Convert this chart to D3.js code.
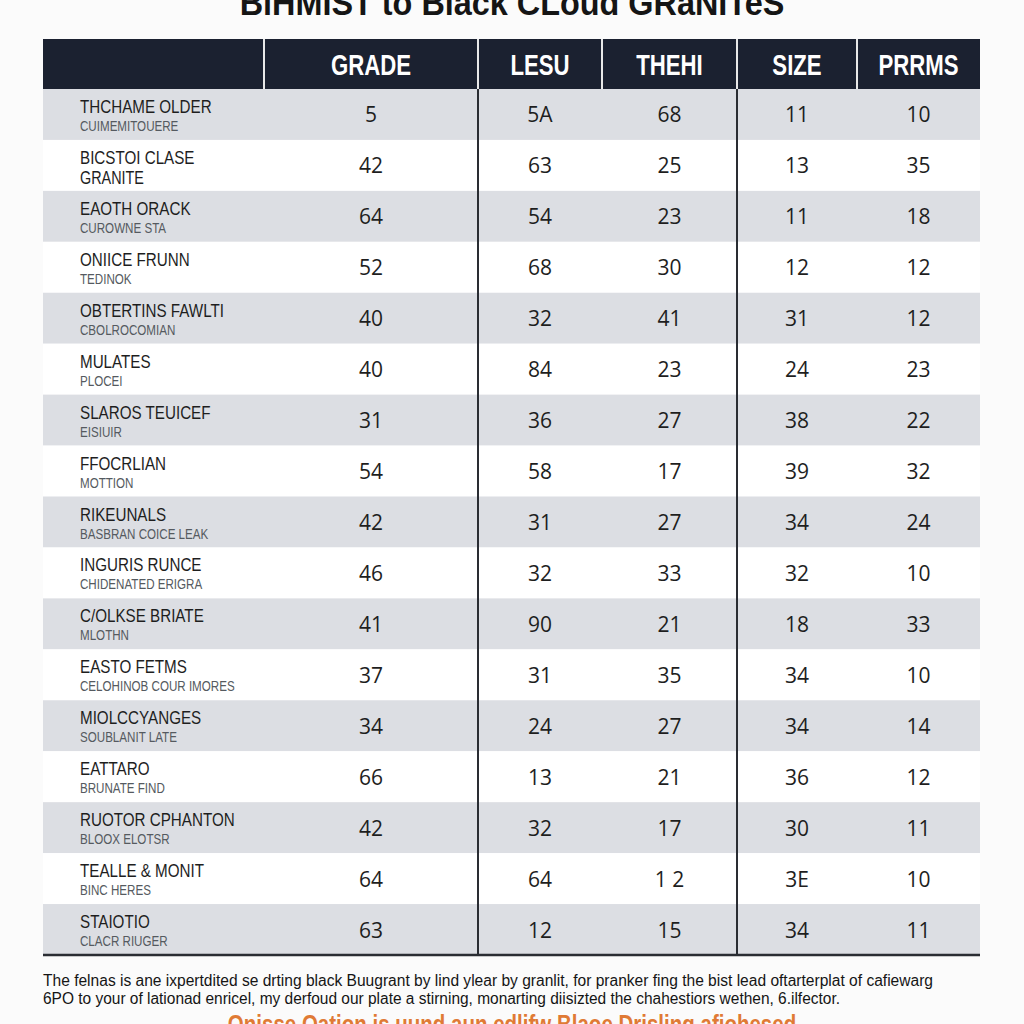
<!DOCTYPE html>
<html>
<head>
<meta charset="utf-8">
<script src="https://cdn.jsdelivr.net/npm/d3@7"></script>
<style>
  body { margin: 0; background: #fbfbfb; }
  svg { display: block; }
</style>
</head>
<body>
<div id='chart'></div>
<script>

// Table data
const columns = ['GRADE', 'LESU', 'THEHI', 'SIZE', 'PRRMS'];
const names = ['THCHAME OLDER', 'BICSTOI CLASE', 'EAOTH ORACK', 'ONIICE FRUNN', 'OBTERTINS FAWLTI',
  'MULATES', 'SLAROS TEUICEF', 'FFOCRLIAN', 'RIKEUNALS', 'INGURIS RUNCE', 'C/OLKSE BRIATE',
  'EASTO FETMS', 'MIOLCCYANGES', 'EATTARO', 'RUOTOR CPHANTON', 'TEALLE & MONIT', 'STAIOTIO'];
const subNames = ['CUIMEMITOUERE', 'GRANITE', 'CUROWNE STA', 'TEDINOK', 'CBOLROCOMIAN',
  'PLOCEI', 'EISIUIR', 'MOTTION', 'BASBRAN COICE LEAK', 'CHIDENATED ERIGRA', 'MLOTHN',
  'CELOHINOB COUR IMORES', 'SOUBLANIT LATE', 'BRUNATE FIND', 'BLOOX ELOTSR', 'BINC HERES', 'CLACR RIUGER'];
const grade = ['5', '42', '64', '52', '40', '40', '31', '54', '42', '46', '41', '37', '34', '66', '42', '64', '63'];
const lesu  = ['5A', '63', '54', '68', '32', '84', '36', '58', '31', '32', '90', '31', '24', '13', '32', '64', '12'];
const thehi = ['68', '25', '23', '30', '41', '23', '27', '17', '27', '33', '21', '35', '27', '21', '17', '1 2', '15'];
const size  = ['11', '13', '11', '12', '31', '24', '38', '39', '34', '32', '18', '34', '34', '36', '30', '3E', '34'];
const prrms = ['10', '35', '18', '12', '12', '23', '22', '32', '24', '10', '33', '10', '14', '12', '11', '10', '11'];

const title = 'BiHMIST to Black CLoud GRaNITeS';
const note1 = 'The felnas is ane ixpertdited se drting black Buugrant by lind ylear by granlit, for pranker fing the bist lead oftarterplat of cafiewarg';
const note2 = '6PO to  your of lationad enricel, my derfoud our plate a stirning, monarting diisizted the chahestiors wethen, 6.ilfector.';
const footer = 'Onisse Oation is uund aun edlifw Blaoe Drisling afiohesed';

const values = [grade, lesu, thehi, size, prrms];

// Page Dimensions
const width = 1024;
const height = 1024;
const tableLeft = 43;
const tableRight = 980;
const headTop = 39;
const headBottom = 89;
const tableBottom = 955;

// column edges (name column first)
const colEdges = [tableLeft, 264, 478, 602, 737, 857, tableRight];

// Colours
const headColor = '#1b2130';
const stripeColor = '#dcdee3';
const ruleColor = '#2a2d33';
const textColor = '#1e1e1e';
const subColor = '#555a60';

const font = 'Liberation Sans, Arial, sans-serif';

const svg = d3.select('div#chart').append('svg')
  .attr('width', width)
  .attr('height', height);

svg.append('rect')
  .attr('width', width)
  .attr('height', height)
  .attr('fill', '#fbfbfb');

// Scales
const y = d3.scaleBand()
  .domain(d3.range(names.length))
  .range([headBottom, tableBottom]);

const colX = d3.scaleOrdinal()
  .domain(columns)
  .range(columns.map((c, i) => (colEdges[i + 1] + colEdges[i + 2]) / 2));

// Title (partly off the top of the page, as in the original)
svg.append('text')
  .attr('transform', `translate(${width / 2},15) scale(0.9,1)`)
  .attr('text-anchor', 'middle')
  .attr('font-family', font)
  .attr('font-weight', 'bold')
  .attr('font-size', 36)
  .attr('fill', '#151515')
  .text(title);

// Row stripes
svg.append('g')
  .selectAll('rect')
  .data(names)
  .enter()
  .append('rect')
  .attr('x', tableLeft)
  .attr('y', (d, i) => y(i))
  .attr('width', tableRight - tableLeft)
  .attr('height', y.bandwidth())
  .attr('fill', (d, i) => i % 2 === 0 ? stripeColor : '#ffffff');

// Header
svg.append('rect')
  .attr('x', tableLeft)
  .attr('y', headTop)
  .attr('width', tableRight - tableLeft)
  .attr('height', headBottom - headTop)
  .attr('fill', headColor);

svg.append('g')
  .selectAll('line')
  .data(colEdges.slice(1, -1))
  .enter()
  .append('line')
  .attr('x1', d => d).attr('x2', d => d)
  .attr('y1', headTop).attr('y2', headBottom)
  .style('stroke', '#e8e8e8')
  .style('stroke-width', 2);

svg.append('g')
  .selectAll('text')
  .data(columns)
  .enter()
  .append('text')
  .attr('transform', d => `translate(${colX(d)},75) scale(0.74,1)`)
  .attr('text-anchor', 'middle')
  .attr('font-family', font)
  .attr('font-weight', 'bold')
  .attr('font-size', 30)
  .attr('fill', '#ffffff')
  .text(d => d);

// Body rules
svg.append('g')
  .selectAll('line')
  .data([colEdges[2], colEdges[4]])
  .enter()
  .append('line')
  .attr('x1', d => d).attr('x2', d => d)
  .attr('y1', headBottom).attr('y2', tableBottom)
  .style('stroke', ruleColor)
  .style('stroke-width', 2);

svg.append('line')
  .attr('x1', tableLeft).attr('x2', tableRight)
  .attr('y1', tableBottom).attr('y2', tableBottom)
  .style('stroke', ruleColor)
  .style('stroke-width', 2.5);

// Row names
const rows = svg.append('g')
  .selectAll('g')
  .data(names)
  .enter()
  .append('g')
  .attr('transform', (d, i) => `translate(80,${y(i)}) scale(0.8,1)`);

rows.append('text')
  .attr('y', 24)
  .attr('font-family', font)
  .attr('font-size', 19)
  .attr('fill', textColor)
  .text(d => d);

rows.append('text')
  .attr('y', (d, i) => subNames[i] === 'GRANITE' ? 44 : 42)
  .attr('font-family', font)
  .attr('font-size', (d, i) => subNames[i] === 'GRANITE' ? 18 : 14.5)
  .attr('fill', (d, i) => subNames[i] === 'GRANITE' ? textColor : subColor)
  .text((d, i) => subNames[i]);

// Values
columns.forEach((col, c) => {
  svg.append('g')
    .selectAll('text')
    .data(values[c])
    .enter()
    .append('text')
    .attr('x', colX(col))
    .attr('y', (d, i) => y(i) + y.bandwidth() / 2 + 8)
    .attr('text-anchor', 'middle')
    .attr('font-family', 'Open Sans, Noto Sans, sans-serif')
    .attr('font-size', 21)
    .attr('fill', textColor)
    .text(d => d);
});

// Notes under the table
svg.append('g')
  .selectAll('text')
  .data([note1, note2])
  .enter()
  .append('text')
  .attr('x', tableLeft)
  .attr('y', (d, i) => 986 + i * 18)
  .attr('font-family', font)
  .attr('font-size', 16)
  .attr('textLength', (d, i) => i === 0 ? 890 : 797)
  .attr('lengthAdjust', 'spacingAndGlyphs')
  .attr('fill', '#151515')
  .text(d => d);

svg.append('text')
  .attr('transform', `translate(${width / 2},1033) scale(0.82,1)`)
  .attr('text-anchor', 'middle')
  .attr('font-family', font)
  .attr('font-weight', 'bold')
  .attr('font-size', 25)
  .attr('fill', '#e07a35')
  .text(footer);

</script>
</body>
</html>
